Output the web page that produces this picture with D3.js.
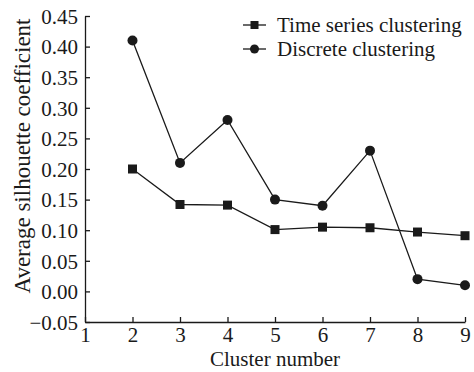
<!DOCTYPE html>
<html>
<head>
<meta charset="utf-8">
<script src="https://cdn.jsdelivr.net/npm/d3@7"></script>
<style>
  body { margin: 0; background: #fff; }
  text { font-family: "Liberation Serif", "Times New Roman", serif; fill: #1a1a1a; }
</style>
</head>
<body>
<div id="chart"></div>
<script>
var svgWidth = 474;
var svgHeight = 372;

// chart data
var clusterNumbers = [2, 3, 4, 5, 6, 7, 8, 9];
var timeSeries = [0.200, 0.142, 0.141, 0.101, 0.105, 0.104, 0.097, 0.091];
var discrete = [0.410, 0.210, 0.280, 0.150, 0.140, 0.230, 0.020, 0.010];
var xTicks = [1, 2, 3, 4, 5, 6, 7, 8, 9];
var yTicks = [-0.05, 0, 0.05, 0.10, 0.15, 0.20, 0.25, 0.30, 0.35, 0.40, 0.45];
var seriesNames = ["Time series clustering", "Discrete clustering"];

var margin = { top: 16, right: 9, bottom: 50, left: 85 };
var width = svgWidth - margin.left - margin.right;
var height = svgHeight - margin.top - margin.bottom;
var ink = "#1a1a1a";

var svg = d3.select("#chart")
  .append("svg")
  .attr("width", svgWidth)
  .attr("height", svgHeight);

var chartGroup = svg.append("g")
  .attr("transform", `translate(${margin.left}, ${margin.top})`);

var xScale = d3.scaleLinear().domain([1, 9]).range([0, width]);
var yScale = d3.scaleLinear().domain([-0.05, 0.45]).range([height, 0]);

// axes: ticks point into the plot
var bottomAxis = d3.axisBottom(xScale)
  .tickValues(xTicks)
  .tickSizeInner(-5)
  .tickSizeOuter(0)
  .tickPadding(5)
  .tickFormat(d3.format("d"));

var leftAxis = d3.axisLeft(yScale)
  .tickValues(yTicks)
  .tickSizeInner(-5)
  .tickSizeOuter(0)
  .tickPadding(7)
  .tickFormat(function(d) { return d3.format(".2f")(d).replace("-", "\u2212"); });

var xAxisG = chartGroup.append("g")
  .attr("transform", `translate(0, ${height})`)
  .call(bottomAxis);

var yAxisG = chartGroup.append("g")
  .call(leftAxis);

[xAxisG, yAxisG].forEach(function(g) {
  g.selectAll("path, line").attr("stroke", ink).attr("stroke-width", 1.3);
  g.selectAll("text")
    .attr("font-size", 21)
    .attr("fill", ink);
});
xAxisG.selectAll(".tick text").attr("dy", "0.71em");
yAxisG.selectAll(".tick text").attr("dy", "0.35em");

// axis titles
chartGroup.append("text")
  .attr("x", width / 2)
  .attr("y", height + 44)
  .attr("text-anchor", "middle")
  .attr("font-size", 21)
  .text("Cluster number");

chartGroup.append("text")
  .attr("transform", "rotate(-90)")
  .attr("x", -(height / 2) + 13)
  .attr("y", -55)
  .attr("text-anchor", "middle")
  .attr("font-size", 23)
  .text("Average silhouette coefficient");

// lines and markers
var line = d3.line()
  .x(function(d) { return xScale(d[0]); })
  .y(function(d) { return yScale(d[1]); });

var timeData = clusterNumbers.map(function(c, i) { return [c, timeSeries[i]]; });
var discreteData = clusterNumbers.map(function(c, i) { return [c, discrete[i]]; });

[timeData, discreteData].forEach(function(data) {
  chartGroup.append("path")
    .datum(data)
    .attr("d", line)
    .attr("fill", "none")
    .attr("stroke", ink)
    .attr("stroke-width", 1.3);
});

chartGroup.selectAll(".sq")
  .data(timeData)
  .enter()
  .append("rect")
  .attr("x", function(d) { return xScale(d[0]) - 4.5; })
  .attr("y", function(d) { return yScale(d[1]) - 4.5; })
  .attr("width", 9)
  .attr("height", 9)
  .attr("fill", ink);

chartGroup.selectAll(".dot")
  .data(discreteData)
  .enter()
  .append("circle")
  .attr("cx", function(d) { return xScale(d[0]); })
  .attr("cy", function(d) { return yScale(d[1]); })
  .attr("r", 5)
  .attr("fill", ink);

// legend
var legend = svg.append("g").attr("transform", "translate(243, 25)");
seriesNames.forEach(function(name, i) {
  var row = legend.append("g").attr("transform", `translate(0, ${i * 24})`);
  row.append("line")
    .attr("x1", 0).attr("x2", 23)
    .attr("y1", 0).attr("y2", 0)
    .attr("stroke", ink)
    .attr("stroke-width", 1.3);
  if (i === 0) {
    row.append("rect")
      .attr("x", 7.5).attr("y", -4)
      .attr("width", 8).attr("height", 8)
      .attr("fill", ink);
  } else {
    row.append("circle")
      .attr("cx", 11.5).attr("cy", 0)
      .attr("r", 4.5)
      .attr("fill", ink);
  }
  row.append("text")
    .attr("x", 34)
    .attr("y", 0)
    .attr("dy", "0.35em")
    .attr("font-size", 21)
    .text(name);
});
</script>
</body>
</html>
